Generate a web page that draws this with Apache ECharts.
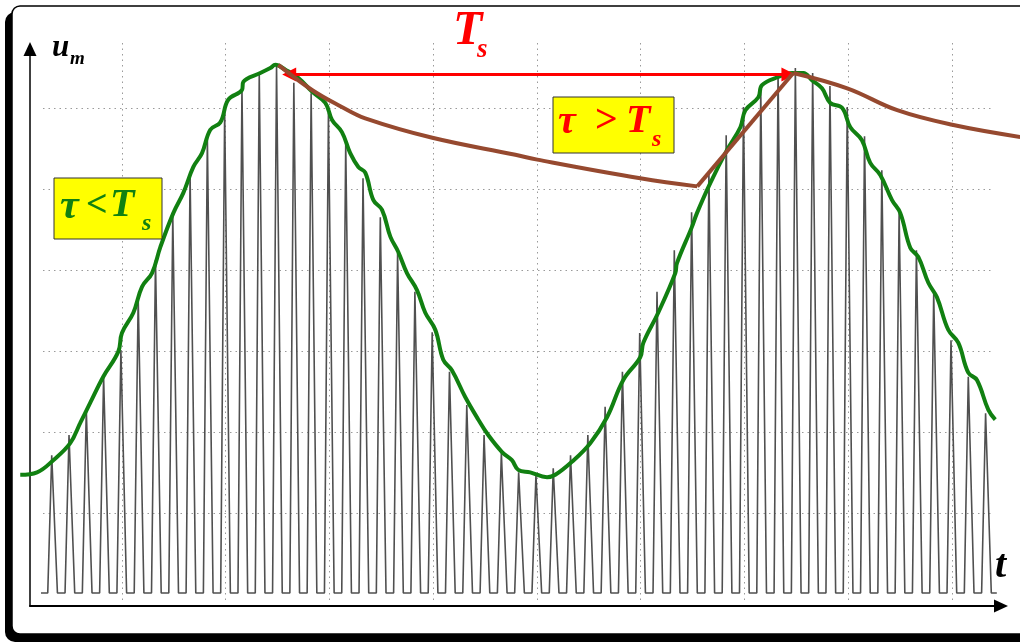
<!DOCTYPE html>
<html>
<head>
<meta charset="utf-8">
<title>PAM sampling</title>
<script src="https://cdn.jsdelivr.net/npm/echarts@6.0.0/dist/echarts.min.js"></script>
<style>
  html, body { margin: 0; padding: 0; background: #fff; }
  #chart { width: 1020px; height: 642px; }
</style>
</head>
<body>
<div id="chart"></div>
<script>
// one pulse per sampling period Ts, x in sample index n, amplitude in grid divisions
const pulseAmp = [
  1.70, 1.95, 2.26, 2.67, 3.00, 3.65, 4.11, 4.67, 5.16, 5.62, 5.96, 6.25, 6.42,
  6.52, 6.30, 6.17, 5.93, 5.56, 5.12, 4.64, 4.20, 3.72, 3.22, 2.73, 2.32, 1.95, 1.73,
  1.49, 1.46, 1.54, 1.70, 1.95, 2.30, 2.73, 3.21, 3.72, 4.23, 4.70, 5.20, 5.65, 6.00,
  6.21, 6.42, 6.48, 6.42, 6.26, 6.00, 5.64, 5.22, 4.70, 4.23, 3.70, 3.12, 2.67, 2.22
];

// green envelope (tau < Ts)
const envT = [
  -1.87, -0.90, 0.04, 1.02, 1.60, 2.18, 2.93, 3.80, 4.01, 4.67, 5.17, 5.75, 6.23, 6.98,
  7.56, 8.14, 8.64, 9.12, 9.70, 10.16, 10.95, 11.03, 12.01, 12.59, 12.88, 13.46, 14.20,
  15.00, 15.77, 16.16, 16.73, 17.21, 17.68, 18.08, 18.55, 19.05, 19.53, 19.99, 20.49,
  21.07, 21.55, 22.13, 22.59, 23.09, 23.86, 24.62, 25.19, 25.99, 26.56, 26.93, 27.62,
  28.59, 29.07, 30.03, 31.09, 32.06, 33.00, 33.98, 34.16, 35.02, 36.01, 36.10, 36.97,
  37.26, 38.03, 39.00, 39.77, 40.06, 40.81, 41.02, 41.96, 42.75, 43.41, 43.91, 44.49,
  44.97, 45.65, 46.13, 46.80, 47.28, 47.86, 48.54, 49.02, 49.60, 50.06, 50.64, 51.14,
  51.79, 52.37, 52.95, 53.45, 54.11, 54.51
];
const envU = [
  1.46, 1.49, 1.64, 1.85, 2.10, 2.35, 2.67, 2.98, 3.21, 3.46, 3.78, 3.95, 4.27, 4.69,
  4.94, 5.26, 5.43, 5.72, 5.81, 6.09, 6.21, 6.31, 6.42, 6.48, 6.52, 6.46, 6.36,
  6.19, 6.05, 5.84, 5.69, 5.43, 5.26, 5.19, 4.85, 4.73, 4.40, 4.21, 3.95,
  3.74, 3.46, 3.25, 2.88, 2.75, 2.42, 2.14, 1.95, 1.74, 1.64, 1.52, 1.49,
  1.43, 1.46, 1.62, 1.85, 2.17, 2.63, 2.91, 3.09, 3.46, 3.95, 4.07, 4.52,
  4.69, 5.06, 5.47, 5.75, 5.96, 6.12, 6.27, 6.37, 6.42, 6.42, 6.33, 6.23,
  6.05, 5.99, 5.75, 5.59, 5.31, 5.16, 4.85, 4.69, 4.26, 4.15, 3.83, 3.65,
  3.25, 3.09, 2.72, 2.63, 2.26, 2.14
];

// brown hold curve (tau > Ts): first discharge, then second discharge
const decay1T = [13.05, 15.00, 16.64, 18.08, 21.96, 26.76, 28.03, 33.98, 37.28];
const decay1U = [6.52, 6.21, 6.01, 5.86, 5.62, 5.41, 5.35, 5.12, 5.02];
const decay2T = [42.83, 45.95, 48.84, 52.02, 55.95];
const decay2U = [6.42, 6.23, 5.96, 5.78, 5.63];

// Ts arrow between the two peaks (line ends, heads sit on them)
const arrowT = [13.68, 42.55];
const arrowU = 6.40;

const HALF_BASE = 0.28, HALF_TOP = 0.05;
const pulseLine = [[-0.67, 0]];
pulseAmp.forEach((h, n) => {
  pulseLine.push([n - HALF_BASE, 0], [n - HALF_TOP, h], [n + HALF_TOP, h], [n + HALF_BASE, 0]);
});
pulseLine.push([pulseAmp.length - 1 + 0.6, 0]);

const envLine = envT.map((t, i) => [t, envU[i]]);
const decay1 = decay1T.map((t, i) => [t, decay1U[i]]);
const decay2 = decay2T.map((t, i) => [t, decay2U[i]]);
const rise = [decay1[decay1.length - 1], decay2[0]];

const SERIF = '"Liberation Serif", "Times New Roman", serif';
const GREEN = '#118011', BROWN = '#96492f', RED = '#ff0000';
const dotted = { color: '#9a9a9a', width: 1, type: [1.5, 4] };

function txt(text, x, y, size, color) {
  return {
    type: 'text', z: 20,
    style: { text, x, y, font: `italic bold ${size}px ${SERIF}`, fill: color, verticalAlign: 'middle' },
  };
}

const chart = echarts.init(document.getElementById('chart'));
chart.setOption({
  animation: false,
  grid: [
    { left: 18, right: 0, top: 43, bottom: 40 },   // data + vertical grid
    { left: 43, right: 28, top: 27, bottom: 48 },  // horizontal grid
    { left: 30, right: 19, top: 49, bottom: 36 },  // arrowed axes
  ],
  xAxis: [
    {
      gridIndex: 0, type: 'value', min: -2, max: 55.94, interval: 6,
      axisLine: { show: false }, axisTick: { show: false }, axisLabel: { show: false },
      splitLine: { show: true, showMinLine: false, showMaxLine: false, lineStyle: dotted },
    },
    { gridIndex: 1, type: 'value', min: 0, max: 1, show: false },
    {
      gridIndex: 2, type: 'value', min: 0, max: 1,
      axisLine: { show: true, symbol: ['none', 'triangle'], symbolSize: [13, 14], lineStyle: { color: '#000', width: 2 } },
      axisTick: { show: false }, axisLabel: { show: false }, splitLine: { show: false },
    },
  ],
  yAxis: [
    { gridIndex: 0, type: 'value', min: -0.111, max: 6.79, show: false },
    {
      gridIndex: 1, type: 'value', min: 0, max: 7, interval: 1,
      axisLine: { show: false }, axisTick: { show: false }, axisLabel: { show: false },
      splitLine: { show: true, showMinLine: false, showMaxLine: false, lineStyle: dotted },
    },
    {
      gridIndex: 2, type: 'value', min: 0, max: 1,
      axisLine: { show: true, onZero: false, symbol: ['none', 'triangle'], symbolSize: [13, 14], lineStyle: { color: '#000', width: 1.5 } },
      axisTick: { show: false }, axisLabel: { show: false }, splitLine: { show: false },
    },
  ],
  series: [
    {
      type: 'line', data: pulseLine, showSymbol: false, z: 2,
      lineStyle: { color: '#505050', width: 1.6 },
    },
    {
      type: 'line', data: envLine, showSymbol: false, smooth: 0.4, z: 3,
      lineStyle: { color: GREEN, width: 4 },
    },
    {
      type: 'lines', coordinateSystem: 'cartesian2d', z: 4,
      symbol: ['triangle', 'triangle'], symbolSize: 14,
      lineStyle: { color: RED, width: 3, opacity: 1 },
      data: [{ coords: [[arrowT[0], arrowU], [arrowT[1], arrowU]] }],
    },
    {
      type: 'line', data: decay1, showSymbol: false, smooth: 0.4, z: 5,
      lineStyle: { color: BROWN, width: 4 },
    },
    {
      type: 'line', data: rise, showSymbol: false, z: 5,
      lineStyle: { color: BROWN, width: 4 },
    },
    {
      type: 'line', data: decay2, showSymbol: false, smooth: 0.4, z: 5,
      lineStyle: { color: BROWN, width: 4 },
    },
  ],
  graphic: [
    { type: 'rect', z: -10, shape: { x: 5, y: 12, width: 1200, height: 630, r: 10 }, style: { fill: '#000' } },
    { type: 'rect', z: -9, shape: { x: 12, y: 6, width: 1200, height: 628, r: 8 }, style: { fill: '#fff', stroke: '#000', lineWidth: 1.5 } },
    { type: 'rect', z: 15, shape: { x: 54, y: 178, width: 108, height: 61 }, style: { fill: '#ffff00', stroke: '#333', lineWidth: 1 } },
    { type: 'rect', z: 15, shape: { x: 553, y: 97, width: 121, height: 56 }, style: { fill: '#ffff00', stroke: '#333', lineWidth: 1 } },
    txt('u', 52, 48, 31, '#000'),
    txt('m', 70, 59, 19, '#000'),
    txt('t', 995, 567, 40, '#000'),
    txt('T', 453, 32, 48, RED),
    txt('s', 477, 50, 27, RED),
    txt('τ', 60, 207, 42, GREEN),
    txt('<', 86, 206, 38, GREEN),
    txt('T', 110, 206, 40, GREEN),
    txt('s', 142, 224, 24, GREEN),
    txt('τ', 558, 123, 40, RED),
    txt('>', 594, 122, 40, RED),
    txt('T', 626, 122, 40, RED),
    txt('s', 652, 140, 24, RED),
  ],
});
</script>
</body>
</html>
